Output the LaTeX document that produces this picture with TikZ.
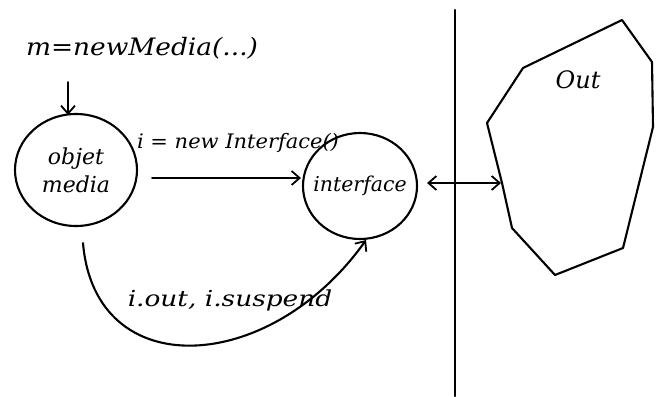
\documentclass[tikz,border=0pt]{standalone}
\usepackage{fontspec}
\setmainfont{DejaVu Serif}
\usetikzlibrary{shapes.geometric,arrows.meta}
\tikzset{
  hand/.style={line width=2.1pt, line cap=round, line join=round},
  arr/.style={hand, -{Straight Barb[length=8pt,width=14pt,line width=1.8pt]}},
  darr/.style={hand, {Straight Barb[length=8pt,width=14pt,line width=1.8pt]}-{Straight Barb[length=8pt,width=14pt,line width=1.8pt]}},
  blob/.style={ellipse, draw, line width=2.1pt, inner sep=-14pt},
  lbl/.style={inner sep=1pt}
}
\begin{document}
\begin{tikzpicture}[x=1pt,y=-1pt]
\useasboundingbox (0,0) rectangle (660,396);
\fill[white] (0,0) rectangle (660,396);
% nodes
\node[lbl, font=\itshape\fontsize{24}{26}\selectfont, xscale=1.1] (title) at (142,48) {m=newMedia(...)};
\node[blob, minimum width=122pt, minimum height=112pt, align=center, font=\itshape\fontsize{22}{28}\selectfont] (objet) at (76,170) {objet\\media};
\node[blob, minimum width=114pt, minimum height=106pt, font=\itshape\fontsize{20.5}{24}\selectfont] (iface) at (360,186) {interface};
\node[lbl, font=\itshape\fontsize{20}{22}\selectfont, xscale=1.05] (newi) at (238,143) {i = new Interface()};
\node[lbl, font=\itshape\fontsize{22}{24}\selectfont, xscale=1.2] (susp) at (230,300) {i.out, i.suspend};
% divider
\coordinate (vtop) at (455,10);
\coordinate (vbot) at (455,396);
\draw[hand] (vtop) -- (vbot);
% Out polygon
\coordinate (p1) at (622,20);
\coordinate (p2) at (652,62);
\coordinate (p3) at (653,127);
\coordinate (p4) at (623,248);
\coordinate (p5) at (555,275);
\coordinate (p6) at (512,228);
\coordinate (p7) at (502,183);
\coordinate (p8) at (487,123);
\coordinate (p9) at (523,68);
\draw[hand] (p1) -- (p2) -- (p3) -- (p4) -- (p5) -- (p6) -- (p7) -- (p8) -- (p9) -- cycle;
\node[lbl, font=\itshape\fontsize{24}{26}\selectfont] (out) at (578,80) {Out};
% connectors
\draw[arr, shorten <=22pt, shorten >=-2pt] (title.south -| 68,0) -- (objet.north -| 68,0);
\draw[arr, shorten <=14pt, shorten >=1pt] ([yshift=-8pt]objet.east) -- ([yshift=8pt]iface.west);
\draw[darr, shorten <=9pt, shorten >=1pt] ([yshift=3pt]iface.east) -- (p7);
\draw[arr] ([xshift=7pt,yshift=-16pt]objet.south) .. controls (95,385) and (270,375) .. ([xshift=6pt]iface.south);
\end{tikzpicture}
\end{document}
